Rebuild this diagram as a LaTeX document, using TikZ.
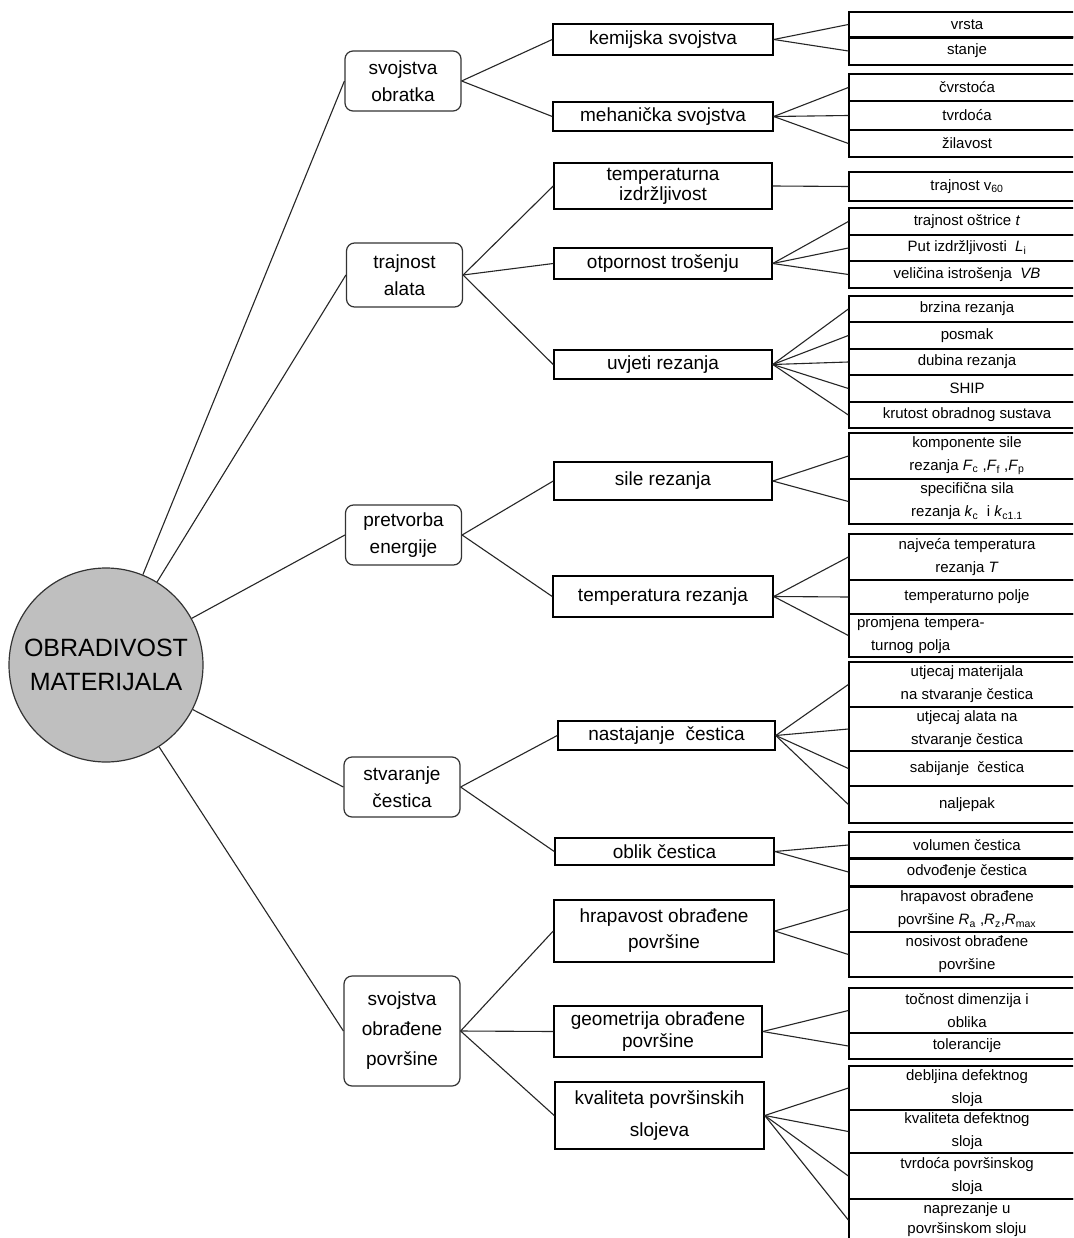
\documentclass[tikz,border=0pt]{standalone}
\usepackage{fontspec}
\setmainfont{Liberation Sans}
\begin{document}
\begin{tikzpicture}[x=1pt,y=-1pt,
 conn/.style={line width=1.1pt, draw=black!85},
 root/.style={circle, draw=black!80, fill=black!25, line width=1.2pt, minimum size=194pt, inner sep=0pt, align=center, font=\fontsize{25}{34}\selectfont},
 lone/.style={draw=black!80, rounded corners=8pt, line width=1.2pt, minimum width=116pt, inner sep=0pt, align=center, font=\fontsize{19}{27}\selectfont},
 ltwo/.style={draw=black, line width=1.5pt, inner sep=0pt, align=center, font=\fontsize{19}{22}\selectfont},
 lthree/.style={draw=black, line width=1.3pt, minimum width=236pt, inner sep=0pt, align=center, font=\fontsize{15}{23}\selectfont},
 sep/.style={line width=3pt}
]
\useasboundingbox (0,0) rectangle (1073,1238);
\clip (0,0) rectangle (1073,1238);
\fill[white] (0,0) rectangle (1073,1238);

% root
\node[root] (r) at (106,665) {OBRADIVOST\\MATERIJALA};

% level 1
\node[lone, minimum height=60pt] (b1) at (403,81) {svojstva\\obratka};
\node[lone, minimum height=64pt] (b2) at (404.5,275) {trajnost\\alata};
\node[lone, minimum height=60pt] (b3) at (403.5,535) {pretvorba\\energije};
\node[lone, minimum height=60pt] (b4) at (402,787) {stvaranje\\čestica};
\node[lone, minimum height=110pt, font=\fontsize{19}{30}\selectfont] (b5) at (402,1031) {svojstva\\obrađene\\površine};

% level 2
\node[ltwo, minimum width=220pt, minimum height=31pt] (c1) at (663,39.5) {kemijska svojstva};
\node[ltwo, minimum width=220pt, minimum height=29pt] (c2) at (663,116.5) {mehanička svojstva};
\node[ltwo, minimum width=218pt, minimum height=46pt, font=\fontsize{19}{20}\selectfont] (c3) at (663,186) {temperaturna\\izdržljivost};
\node[ltwo, minimum width=218pt, minimum height=31pt] (c4) at (663,263.5) {otpornost trošenju};
\node[ltwo, minimum width=218pt, minimum height=29pt] (c5) at (663,364.5) {uvjeti rezanja};
\node[ltwo, minimum width=218pt, minimum height=38pt] (c6) at (663,481) {sile rezanja};
\node[ltwo, minimum width=220pt, minimum height=41pt] (c7) at (663,596.5) {temperatura rezanja};
\node[ltwo, minimum width=217pt, minimum height=29pt] (c8) at (666.5,735.5) {nastajanje\ \ čestica};
\node[ltwo, minimum width=219pt, minimum height=27pt] (c9) at (664.5,851.5) {oblik čestica};
\node[ltwo, minimum width=220pt, minimum height=62pt, font=\fontsize{19}{26}\selectfont] (c10) at (664,931) {hrapavost obrađene\\površine};
\node[ltwo, minimum width=208pt, minimum height=51pt, font=\fontsize{19}{22}\selectfont] (c11) at (658,1031.5) {geometrija obrađene\\površine};
\node[ltwo, minimum width=209pt, minimum height=67pt, font=\fontsize{19}{32}\selectfont] (c12) at (659.5,1115.5) {kvaliteta površinskih\\slojeva};

% level 3
\node[lthree, minimum height=25pt] (d1) at (967,24.5) {vrsta};
\node[lthree, minimum height=28pt] (d2) at (967,51) {stanje};
\node[lthree, minimum height=27pt] (d3) at (967,87.5) {čvrstoća};
\node[lthree, minimum height=29pt] (d4) at (967,115.5) {tvrdoća};
\node[lthree, minimum height=27pt] (d5) at (967,143.5) {žilavost};
\node[lthree, minimum height=29pt] (d6) at (967,186.5) {trajnost v\textsubscript{60}};
\node[lthree, minimum height=27pt] (d7) at (967,221.5) {trajnost oštrice \textit{t}};
\node[lthree, minimum height=26pt] (d8) at (967,248) {Put izdržljivosti\ \ \textit{L}\textsubscript{i}};
\node[lthree, minimum height=27pt] (d9) at (967,274.5) {veličina istrošenja\ \ \textit{VB}};
\node[lthree, minimum height=26pt] (d10) at (967,309) {brzina rezanja};
\node[lthree, minimum height=27pt] (d11) at (967,335.5) {posmak};
\node[lthree, minimum height=26pt] (d12) at (967,362) {dubina rezanja};
\node[lthree, minimum height=27pt] (d13) at (967,388.5) {SHIP};
\node[lthree, minimum height=26pt] (d14) at (967,415) {krutost obradnog sustava};
\node[lthree, minimum height=46pt] (d15) at (967,456) {komponente sile\\rezanja \textit{F}\textsubscript{c} ,\textit{F}\textsubscript{f} ,\textit{F}\textsubscript{p}};
\node[lthree, minimum height=45pt] (d16) at (967,501.5) {specifična sila\\rezanja \textit{k}\textsubscript{c}\ \ i \textit{k}\textsubscript{c1.1}};
\node[lthree, minimum height=46pt] (d17) at (967,557) {najveća temperatura\\rezanja \textit{T}};
\node[lthree, minimum height=34pt] (d18) at (967,597) {temperaturno polje};
\node[lthree, minimum height=43pt, align=left, text width=220pt] (d19) at (967,635.5) {promjena tempera-\\\hspace*{14pt}turnog polja};
\node[lthree, minimum height=45pt] (d20) at (967,684.5) {utjecaj materijala\\na stvaranje čestica};
\node[lthree, minimum height=44pt] (d21) at (967,729) {utjecaj alata na\\stvaranje čestica};
\node[lthree, minimum height=35pt] (d22) at (967,768.5) {sabijanje\ \ čestica};
\node[lthree, minimum height=37pt] (d23) at (967,804.5) {naljepak};
\node[lthree, minimum height=26pt] (d24) at (967,845) {volumen čestica};
\node[lthree, minimum height=28pt] (d25) at (967,872) {odvođenje čestica};
\node[lthree, minimum height=45pt] (d26) at (967,909.5) {hrapavost obrađene\\površine \textit{R}\textsubscript{a}\ ,\textit{R}\textsubscript{z},\textit{R}\textsubscript{max}};
\node[lthree, minimum height=45pt] (d27) at (967,954.5) {nosivost obrađene\\površine};
\node[lthree, minimum height=45pt] (d28) at (967,1010.5) {točnost dimenzija i\\oblika};
\node[lthree, minimum height=26pt] (d29) at (967,1046) {tolerancije};
\node[lthree, minimum height=44pt] (d30) at (967,1088) {debljina defektnog\\sloja};
\node[lthree, minimum height=43pt] (d31) at (967,1131.5) {kvaliteta defektnog\\sloja};
\node[lthree, minimum height=46pt] (d32) at (967,1176) {tvrdoća površinskog\\sloja};
\node[lthree, minimum height=42pt, font=\fontsize{15}{20}\selectfont] (d33) at (967,1220) {naprezanje u\\površinskom sloju};

% thick separators
\draw[sep] (d1.south west) -- (d1.south east);
\draw[sep] (d24.south west) -- (d24.south east);

% root connectors
\foreach \b in {b1,b2,b3,b4,b5} \draw[conn] (r) -- (\b.west);

% level 1 -> level 2
\foreach \a/\b in {b1/c1,b1/c2,b2/c3,b2/c4,b2/c5,b3/c6,b3/c7,b4/c8,b4/c9,b5/c10,b5/c11,b5/c12}
  \draw[conn] (\a.east) -- (\b.west);

% level 2 -> level 3
\foreach \a/\b in {c1/d1,c1/d2,c2/d3,c2/d4,c2/d5,c3/d6,c4/d7,c4/d8,c4/d9,
  c5/d10,c5/d11,c5/d12,c5/d13,c5/d14,c6/d15,c6/d16,c7/d17,c7/d18,c7/d19,
  c8/d20,c8/d21,c8/d22,c8/d23,c9/d24,c9/d25,c10/d26,c10/d27,c11/d28,c11/d29,
  c12/d30,c12/d31,c12/d32,c12/d33}
  \draw[conn] (\a.east) -- (\b.west);
\end{tikzpicture}
\end{document}
